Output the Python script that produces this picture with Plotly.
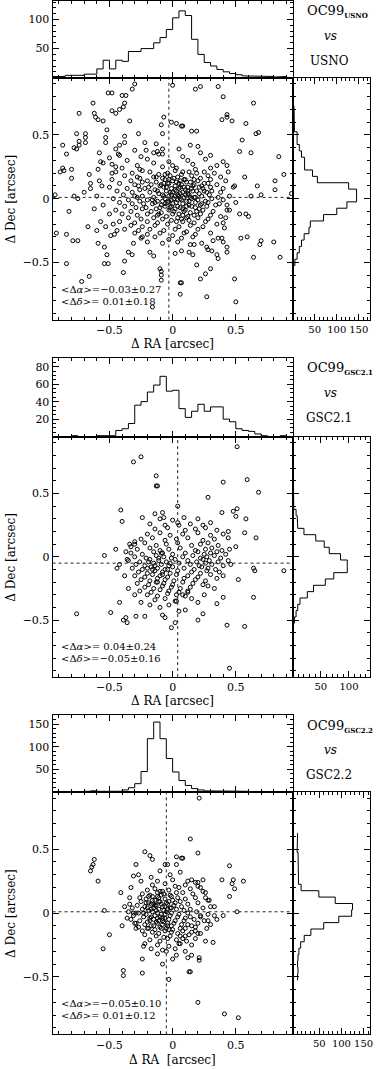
import plotly.graph_objects as go

W, H = 384, 1069
FONT = "DejaVu Serif"

# --- catalogues compared with OC99 ---
catalogs = ["USNO", "GSC2.1", "GSC2.2"]
mean_ra = [-0.03, 0.04, -0.05]
sd_ra = [0.27, 0.24, 0.10]
mean_dec = [0.01, -0.05, 0.01]
sd_dec = [0.18, 0.16, 0.12]

# RA histograms: 0.05" bins from -0.95" to 0.95"
ra_bin_start, ra_bin_width = -0.95, 0.05
ra_counts_usno = [2, 2, 4, 4, 4, 6, 6, 15, 30, 15, 30, 28, 45, 45, 50, 50, 60, 69, 83,
                  103, 115, 107, 66, 40, 26, 20, 14, 10, 7, 5, 3, 3, 3, 3, 2, 1, 2, 0]
ra_counts_gsc21 = [0, 0, 0, 1, 0, 0, 0, 1, 1, 1, 7, 9, 15, 36, 40, 51, 59, 69, 52,
                   53, 32, 22, 29, 37, 29, 34, 34, 20, 17, 9, 7, 6, 3, 1, 0, 0, 1, 0]
ra_counts_gsc22 = [0, 0, 0, 0, 0, 1, 2, 1, 1, 1, 1, 4, 9, 18, 45, 118, 155, 118, 74,
                   44, 25, 14, 7, 4, 2, 2, 1, 2, 2, 2, 1, 0, 0, 0, 0, 0, 0, 0]

# Dec histograms: 0.05" bins centred on -0.95" ... 0.95"
dec_bin_start, dec_bin_width = -0.975, 0.05
dec_counts_usno = [0, 0, 0, 0, 1, 1, 1, 1, 2, 5, 10, 15, 20, 26, 37, 40, 70, 100, 123, 145,
                   145, 127, 56, 45, 27, 27, 20, 15, 10, 10, 4, 4, 4, 3, 2, 2, 1, 1, 0]
dec_counts_gsc21 = [0, 0, 0, 0, 0, 0, 0, 0, 1, 3, 6, 9, 13, 26, 37, 58, 73, 97, 97, 85,
                    65, 56, 41, 20, 9, 8, 6, 2, 1, 1, 1, 1, 0, 0, 1, 0, 1, 0, 0]
dec_counts_gsc22 = [0, 0, 0, 0, 0, 0, 0, 0, 0, 1, 2, 1, 2, 4, 8, 16, 31, 60, 94, 123,
                    125, 86, 49, 9, 3, 3, 2, 2, 2, 0, 1, 1, 0, 0, 0, 0, 0, 0, 0]

# individual offsets (dRA, dDec) in units of 0.01 arcsec
pts_usno = [
    (-30, 90), (-32, 86), (-51, 83), (-48, 83), (-40, 81), (-37, 81), (-63, 75), (-38, 75), (-39, 72),
    (-74, 67), (-62, 67), (-61, 64), (-59, 62), (-55, 61), (-48, 69), (-45, 67), (-42, 70), (-34, 61),
    (-7, 64), (0, 89), (-9, 58), (-8, 51), (-1, 60), (3, 59), (7, 57), (-76, 51), (-69, 51), (-69, 48),
    (-74, 45), (-69, 44), (-78, 40), (-76, 39), (-74, 42), (-87, 42), (-84, 35), (-87, 24), (-89, 21),
    (-86, 22), (-80, 23), (-80, 16), (-66, 19), (-53, 48), (-53, 44), (-52, 54), (-58, 36), (-57, 29),
    (-59, 23), (-45, 39), (-43, 35), (-42, 42), (-38, 49), (-38, 44), (-27, 51), (-22, 44), (-21, 38),
    (-13, 43), (-15, 36), (-11, 35), (-8, 39), (-65, 12), (-65, 8), (-93, 3), (-78, 2), (-75, 0),
    (-82, -10), (-92, -27), (-84, -28), (-79, -33), (-75, -33), (-84, -51), (-67, -22), (-59, -35),
    (-54, -38), (-52, -44), (-54, -51), (-51, -51), (-72, -65), (-66, -61), (-49, -29), (-46, -28),
    (-38, -49), (-39, -58), (-35, -42), (-32, -44), (-31, -35), (-24, -30), (-18, -42), (-15, -45),
    (-16, -85), (-10, -55), (-9, -57), (-9, -60), (-9, -64), (7, -66), (6, -75), (2, -43), (7, -41),
    (13, -42), (16, -44), (18, 86), (22, 88), (36, 88), (40, 80), (64, 75), (39, 62), (43, 66),
    (47, 61), (43, 64), (58, 59), (66, 51), (68, 52), (55, 46), (15, 53), (19, 53), (8, 57), (14, 42),
    (20, 41), (53, 37), (62, 36), (84, 33), (43, 26), (57, 17), (88, 19), (81, 14), (67, 10), (81, 7),
    (94, 4), (70, 3), (62, 2), (49, 10), (43, -5), (45, -9), (53, -12), (58, -12), (60, -14), (42, -15),
    (40, -19), (41, -23), (54, -31), (59, -30), (70, -33), (69, -36), (80, -34), (64, -46), (85, -46),
    (36, -47), (43, -42), (43, -38), (30, -55), (19, -52), (22, -63), (26, -59), (49, -63), (27, -77),
    (50, -81), (6, -66), (32, -33), (36, -31), (39, -31), (40, -34), (17, -36), (23, -35), (27, -38),
    (28, -40), (31, -41), (35, -44), (-56, 10), (-55, -5), (-50, -12), (-57, -18), (-48, 20), (-60, 2),
    (-62, -8), (-70, 5), (-55, 28), (-50, 32), (-47, -20), (-44, -25), (-60, -25), (-53, -22),
    (-45, 25), (-58, 14),
    # dense core
    (-18, 21), (-11, 19), (-4, 20), (2, 22), (7, 19), (13, 21), (19, 20),
    (-15, 17), (-8, 16), (-2, 18), (4, 17), (10, 15), (15, 18), (22, 16),
    (-20, 14), (-13, 13), (-6, 15), (0, 14), (5, 12), (9, 15), (14, 13), (20, 14), (25, 12),
    (-17, 11), (-10, 10), (-3, 12), (2, 10), (7, 11), (12, 9), (17, 11), (23, 10),
    (-22, 8), (-14, 7), (-7, 9), (-1, 8), (3, 6), (6, 9), (10, 7), (15, 8), (19, 6), (24, 8),
    (-18, 5), (-11, 4), (-5, 6), (0, 5), (4, 3), (8, 5), (12, 4), (16, 6), (21, 4), (27, 5),
    (-24, 2), (-15, 1), (-8, 3), (-3, 2), (1, 0), (5, 2), (9, 1), (13, 3), (18, 1), (23, 2),
    (-20, -1), (-12, -2), (-6, 0), (-1, -1), (3, -3), (7, -1), (11, -2), (15, 0), (20, -1), (26, -2),
    (-16, -4), (-9, -5), (-4, -3), (0, -4), (4, -6), (8, -4), (13, -5), (18, -3), (23, -4),
    (-21, -7), (-13, -8), (-6, -6), (-2, -7), (2, -8), (6, -7), (10, -9), (15, -6), (21, -8),
    (-17, -10), (-9, -11), (-3, -9), (1, -10), (5, -12), (9, -10), (14, -11), (19, -10),
    (-12, -13), (-5, -14), (0, -12), (4, -15), (8, -13), (12, -14), (17, -13),
    (-8, -16), (-1, -17), (3, -18), (7, -16), (13, -17),
    (-9, 11), (-5, 9), (-2, 5), (2, 7), (6, 4), (9, 9), (12, 6), (-7, 2), (-3, -2), (2, 2), (6, 0),
    (10, 3), (13, -2), (-6, -4), (-1, -6), (4, -1), (8, -8), (11, -6), (-4, 12), (1, 16), (6, 14),
    (11, 13), (16, 10), (17, 1), (-12, 6), (-14, -3), (-10, -7),
    (-13, 17), (-6, 19), (8, 21), (17, 15), (21, 9), (18, -7), (-19, 9), (-16, -1), (-8, -2), (3, 13),
    (-1, 3), (14, 1), (22, -5), (-11, -12), (11, -15), (-3, 15), (5, 8), (-7, 12), (25, 6), (-23, -4),
    # surrounding spread
    (-30, 38), (-12, 37), (5, 39), (22, 36), (-42, 34), (-25, 33), (-8, 35), (8, 33), (30, 34),
    (-36, 30), (-20, 31), (-3, 29), (12, 30), (26, 31), (40, 29), (-48, 27), (-28, 26), (-15, 28),
    (0, 26), (16, 27), (35, 26), (-40, 24), (-26, 23), (-8, 25), (3, 24), (18, 23), (30, 24),
    (-45, 21), (-32, 20), (-24, 22), (25, 21), (33, 20), (44, 21), (-38, 18), (-28, 17), (28, 18),
    (38, 17), (-48, 15), (-33, 14), (-26, 16), (30, 15), (42, 14), (-42, 12), (-30, 11), (-24, 13),
    (28, 12), (35, 11), (-50, 9), (-36, 8), (-27, 10), (30, 9), (40, 8), (48, 9), (-44, 6), (-32, 5),
    (-26, 7), (31, 6), (38, 5), (-39, 3), (-30, 2), (29, 3), (36, 1), (45, 2), (-47, 0), (-35, -1),
    (-28, 1), (31, 0), (40, -1), (-42, -3), (-32, -4), (-26, -2), (28, -3), (37, -4), (50, -3),
    (-38, -6), (-29, -7), (27, -6), (34, -5), (-45, -9), (-33, -10), (-24, -8), (24, -9), (32, -10),
    (43, -9), (-40, -12), (-28, -13), (-20, -12), (22, -12), (30, -13), (-35, -15), (-25, -16),
    (-15, -15), (20, -15), (28, -16), (38, -14), (-42, -18), (-30, -19), (-20, -18), (-12, -19),
    (8, -18), (17, -19), (26, -18), (-33, -21), (-24, -22), (-14, -21), (-4, -20), (5, -22), (14, -21),
    (24, -22), (35, -20), (-38, -24), (-27, -25), (-18, -24), (-7, -25), (2, -24), (11, -26), (20, -24),
    (-30, -27), (-20, -28), (-10, -27), (0, -29), (9, -27), (18, -28), (30, -27), (-25, -31), (-14, -30),
    (-3, -32), (7, -31), (16, -30), (-20, -34), (-8, -35), (4, -34), (14, -36),
]

pts_gsc21 = [
    (-31, 75), (-25, 79), (-13, 64), (-13, 56), (-12, 56), (-41, 37), (-14, 34), (-8, 35), (-7, 31),
    (4, 40), (5, 25), (-40, 28), (-24, 31), (-54, 1), (-45, 6), (-42, -6), (-44, -9), (-42, -36),
    (-37, -48), (-39, -50), (-49, -44), (-36, -52), (-76, -45), (-29, -47), (-22, -47), (-8, -46),
    (-6, -48), (-1, -56), (2, -52), (5, -43), (-37, 4), (-33, 8), (-30, 12), (51, 87), (40, 59),
    (59, 61), (68, 51), (28, 47), (39, 35), (48, 36), (51, 38), (50, 32), (58, 30), (66, 15), (57, 19),
    (64, -9), (65, -11), (88, -11), (52, -18), (64, -32), (57, -55), (43, -54), (35, -37), (40, -32),
    (20, -50), (24, -45), (45, -88), (10, -42), (15, -33), (20, -36), (25, -30), (-18, -38), (-10, -40),
    (-25, -36), (-30, -30), (-35, -25), (-38, -15), (-36, -2), (-34, 10), (46, -6), (50, 8), (44, 20),
    (-3, -38), (3, -35), (8, -30), (33, -25), (12, -28),
    (-20, 18), (-10, 19), (-2, 17), (8, 18), (20, 19), (30, 17), (40, 18),
    (-25, 14), (-16, 15), (-6, 13), (3, 14), (12, 15), (24, 13), (33, 14), (44, 15),
    (-30, 10), (-22, 11), (-13, 9), (-5, 10), (4, 11), (15, 9), (22, 10), (28, 11), (36, 9),
    (-28, 6), (-18, 7), (-10, 5), (-3, 6), (6, 7), (18, 5), (26, 6), (31, 7), (39, 5), (45, 6),
    (-33, 3), (-24, 2), (-15, 4), (-8, 3), (0, 2), (10, 3), (20, 4), (25, 2), (30, 3), (35, 4), (42, 2),
    (-30, 0), (-21, -1), (-13, 1), (-7, 0), (-1, -1), (8, 0), (16, 1), (22, -1), (27, 0), (33, 1), (38, -1),
    (-35, -3), (-26, -4), (-18, -2), (-11, -3), (-5, -4), (2, -2), (12, -3), (19, -4), (24, -2), (29, -3),
    (36, -4), (44, -3), (-29, -6), (-22, -7), (-15, -5), (-9, -6), (-3, -7), (5, -5), (14, -6), (21, -7),
    (26, -5), (31, -6), (40, -7), (-32, -9), (-24, -10), (-17, -8), (-12, -9), (-6, -10), (0, -8),
    (9, -9), (17, -10), (23, -8), (28, -9), (34, -10), (-27, -12), (-20, -13), (-14, -11), (-8, -12),
    (-2, -13), (4, -11), (15, -12), (22, -13), (27, -11), (37, -12), (-30, -15), (-22, -16), (-16, -14),
    (-10, -15), (-4, -16), (3, -14), (12, -15), (20, -16), (30, -14), (40, -15), (-25, -18), (-18, -19),
    (-12, -17), (-6, -18), (1, -19), (9, -17), (18, -18), (26, -19), (35, -17), (-28, -21), (-19, -22),
    (-13, -20), (-7, -21), (0, -22), (8, -20), (16, -21), (24, -22), (-22, -24), (-15, -25), (-8, -23),
    (-1, -24), (6, -25), (14, -24), (28, -23), (-26, -27), (-17, -28), (-10, -26), (-3, -27), (5, -28),
    (12, -27), (-20, -30), (-12, -31), (-4, -29), (3, -30), (10, -31), (-14, -34), (-6, -33), (2, -35),
    (-14, 22), (-4, 23), (10, 21), (18, 22), (26, 23), (35, 21), (-18, 26), (-6, 25), (4, 27), (14, 26),
    (24, 25), (30, 27), (-10, 30), (0, 29), (9, 31), (20, 30),
    (-14, -7), (-11, -1), (-8, -14), (-16, -10), (-19, -4), (-9, 3), (-4, -10), (-12, -20), (-20, -9),
    (-2, -5),
]

pts_gsc22 = [
    (14, 58), (20, 47), (-22, 48), (-18, 45), (-16, 42), (-6, 38), (-4, 38), (3, 44), (8, 43), (3, 38),
    (-62, 42), (-64, 36), (-65, 33), (-63, 38), (-59, 25), (-41, 16), (-29, 38), (-31, 29), (-27, 30),
    (-54, 2), (-50, -17), (-55, -28), (-39, -45), (-39, -49), (-24, -47), (-24, -36), (-22, -24),
    (-23, -26), (3, -33), (12, -35), (15, -33), (14, -46), (20, -70), (-31, 0), (-29, 0), (-30, -8),
    (-29, -12), (7, 43), (45, 37), (39, 26), (48, 26), (56, 25), (47, 23), (49, 19), (45, 13), (51, 1),
    (35, -5), (32, -23), (26, -22), (21, -35), (21, -37), (13, -46), (41, -79), (52, -82), (21, 90),
    (15, 26), (18, 24), (24, 26), (20, 21), (26, 16), (26, 12), (15, -10), (18, -14), (10, -18),
    (20, -16), (0, -36), (-5, -30), (-12, -32), (-17, -28), (-8, -40), (-3, -52), (5, -24), (8, -20),
    (30, 5), (33, -2), (28, -6), (22, -3), (29, 10), (-38, 5), (-36, -4), (-40, -10), (-34, 12),
    (-33, 20), (-25, 25), (-17, 28), (-10, 33), (-2, 30), (6, 32),
    (-20, 18), (-14, 19), (-8, 17), (-3, 18), (-24, 15), (-18, 14), (-12, 16), (-7, 15), (-2, 14), (3, 16),
    (-26, 12), (-21, 11), (-16, 13), (-11, 12), (-6, 11), (-1, 13), (4, 12),
    (-25, 9), (-19, 8), (-14, 10), (-10, 9), (-5, 8), (0, 10), (6, 9),
    (-28, 6), (-22, 5), (-17, 7), (-13, 6), (-8, 5), (-4, 7), (1, 6), (7, 5),
    (-24, 3), (-19, 2), (-15, 4), (-11, 3), (-7, 2), (-2, 4), (3, 3), (9, 2),
    (-27, 0), (-21, -1), (-16, 1), (-12, 0), (-9, -1), (-5, 1), (-1, 0), (5, -1),
    (-23, -3), (-18, -4), (-14, -2), (-10, -3), (-6, -4), (-2, -2), (4, -3), (10, -4),
    (-26, -6), (-20, -7), (-15, -5), (-11, -6), (-7, -7), (-3, -5), (2, -6),
    (-22, -9), (-17, -10), (-12, -8), (-8, -9), (-4, -10), (1, -8), (7, -9),
    (-19, -12), (-14, -13), (-10, -11), (-5, -12), (0, -13), (6, -12),
    (-16, -15), (-11, -16), (-6, -14), (-1, -15), (4, -16), (-13, -18), (-7, -19), (-2, -18),
    (-17, 3), (-13, -7), (-9, 7), (-6, -1), (-11, 9), (-15, -10), (-20, 4), (-3, 9), (-8, -4), (-12, 13),
    (-18, -6), (-4, -8), (-1, 4), (-14, 6), (-9, -12), (-21, 8),
    (-19, 13), (-9, 14), (-16, 10), (-4, 3), (-13, 2), (-23, 0), (-8, -6), (-17, -3), (-1, -10),
    (-12, -4), (-6, 5), (-20, -12), (2, 8), (-10, 17), (-15, 7), (-3, -13),
    (-16, 22), (-6, 23), (2, 21), (10, 22), (-12, 25), (0, 26), (12, 25), (20, 24), (5, 20), (14, 19),
    (22, 20), (8, 16), (16, 15), (24, 17), (10, 11), (18, 12), (28, 10), (-34, 7), (12, 7), (20, 8),
    (-32, 4), (14, 3), (24, 4), (33, 5), (-35, 1), (12, 0), (19, 1), (28, -1), (-31, -2), (14, -3),
    (22, -2), (40, -2), (-33, -5), (9, -6), (17, -5), (25, -6), (-29, -8), (12, -9), (20, -8), (30, -9),
    (-27, -11), (10, -12), (18, -11), (27, -12), (-24, -14), (8, -14), (15, -15), (-22, -17), (6, -18),
    (13, -17), (22, -16), (-18, -21), (-10, -22), (-4, -20), (3, -21), (11, -22), (18, -20), (-12, -25),
    (-3, -26), (6, -24), (15, -25), (-8, -29), (2, -28), (10, -30),
]

points = [pts_usno, pts_gsc21, pts_gsc22]
ra_counts = [ra_counts_usno, ra_counts_gsc21, ra_counts_gsc22]
dec_counts = [dec_counts_usno, dec_counts_gsc21, dec_counts_gsc22]

# histogram axis ranges and tick values
top_range = [[0, 132], [0, 90], [0, 170]]
top_ticks = [[50, 100], [20, 40, 60, 80], [50, 100, 150]]
top_minor = [10, 5, 10]
side_range = [[0, 175], [0, 137], [-10, 164]]
side_ticks = [[50, 100, 150], [50, 100], [50, 100, 150]]

# pixel layout of the three panels: top of histogram, histogram/scatter boundary, bottom
panel_rows = [(0, 76.7, 319), (357.3, 436, 676.7), (715, 791.5, 1034.3)]
X_LEFT, X_SPLIT, X_RIGHT = 53, 295, 372.7
LIM = 0.95


def fx(px):
    return px / W


def fy(py):
    return 1 - py / H


def signed(v):
    s = f"{abs(v):.2f}"
    return ("−" if v < 0 else " ") + s


def step_outline(counts, start, width):
    """Outline of a histogram between its first and last filled bins."""
    filled = [k for k, c in enumerate(counts) if c > 0]
    a, b = filled[0], filled[-1]
    pos, val = [start + width * a], [0]
    for k in range(a, b + 1):
        pos += [start + width * k, start + width * (k + 1)]
        val += [counts[k], counts[k]]
    pos.append(start + width * (b + 1))
    val.append(0)
    return pos, val


def axis_style(size=11, **kw):
    style = dict(
        showline=True, linecolor="black", linewidth=1, mirror="allticks",
        ticks="inside", ticklen=6, tickwidth=1, tickcolor="black",
        showgrid=False, zeroline=False, tickangle=0,
        tickfont=dict(family=FONT, size=size, color="black"),
    )
    style.update(kw)
    return style


def minor(dtick):
    return dict(ticks="inside", ticklen=3, tickwidth=1, tickcolor="black", dtick=dtick, showgrid=False)


fig = go.Figure()
layout = {}
annotations = []
shapes = []

for i, name in enumerate(catalogs):
    top, mid, bot = panel_rows[i]
    n = 3 * i + 1
    ids = [str(k) if k > 1 else "" for k in (n, n + 1, n + 2)]
    sx, tx, rx = ("x" + s for s in ids)
    sy, ty, ry = ("y" + s for s in ids)

    # scatter panel
    xs = [p[0] / 100 for p in points[i]]
    ys = [p[1] / 100 for p in points[i]]
    fig.add_trace(go.Scatter(
        x=xs, y=ys, xaxis=sx, yaxis=sy, mode="markers",
        marker=dict(symbol="circle-open", size=4, color="black", line=dict(width=1)),
        hoverinfo="skip",
    ))
    layout["xaxis" + ids[0]] = axis_style(
        domain=[fx(X_LEFT), fx(X_SPLIT)], anchor=sy, range=[-LIM, LIM],
        tick0=0, dtick=0.5, minor=minor(0.1),
    )
    layout["yaxis" + ids[0]] = axis_style(
        domain=[fy(bot), fy(mid)], anchor=sx, range=[-LIM, LIM],
        tick0=0, dtick=0.5, minor=minor(0.1),
    )

    # RA histogram on top
    hx, hy = step_outline(ra_counts[i], ra_bin_start, ra_bin_width)
    fig.add_trace(go.Scatter(
        x=hx, y=hy, xaxis=tx, yaxis=ty, mode="lines",
        line=dict(color="black", width=1), hoverinfo="skip",
    ))
    layout["xaxis" + ids[1]] = axis_style(
        domain=[fx(X_LEFT), fx(X_SPLIT)], anchor=ty, range=[-LIM, LIM],
        tick0=0, dtick=0.5, minor=minor(0.1), showticklabels=False,
    )
    layout["yaxis" + ids[1]] = axis_style(
        domain=[fy(mid), min(1.0, fy(top))], anchor=tx, range=top_range[i],
        tickmode="array", tickvals=top_ticks[i], minor=minor(top_minor[i]),
    )

    # Dec histogram on the right
    hy, hx = step_outline(dec_counts[i], dec_bin_start, dec_bin_width)
    fig.add_trace(go.Scatter(
        x=hx, y=hy, xaxis=rx, yaxis=ry, mode="lines",
        line=dict(color="black", width=1), hoverinfo="skip",
    ))
    layout["xaxis" + ids[2]] = axis_style(
        size=10, domain=[fx(X_SPLIT), fx(X_RIGHT)], anchor=ry, range=side_range[i],
        tickmode="array", tickvals=side_ticks[i], minor=minor(10),
    )
    layout["yaxis" + ids[2]] = axis_style(
        domain=[fy(bot), fy(mid)], anchor=rx, range=[-LIM, LIM],
        tick0=0, dtick=0.5, minor=minor(0.1), showticklabels=False,
    )

    # dotted lines through the mean offsets
    dot = dict(color="#222", width=1, dash="dot")
    shapes.append(dict(type="line", xref=sx, yref=sy, x0=mean_ra[i], x1=mean_ra[i],
                       y0=-LIM, y1=LIM, line=dot))
    shapes.append(dict(type="line", xref=sx, yref=sy, x0=-LIM, x1=LIM,
                       y0=mean_dec[i], y1=mean_dec[i], line=dot))

    # labels
    txt = dict(family=FONT, size=12, color="black")
    small = dict(family=FONT, size=10, color="black")
    annotations.append(dict(
        x=fx(59), y=fy(bot - 30.5), xref="paper", yref="paper", xanchor="left", yanchor="middle",
        text=f"&lt;Δ<i>α</i>&gt;={signed(mean_ra[i])}±{sd_ra[i]:.2f}", showarrow=False, font=small,
    ))
    annotations.append(dict(
        x=fx(59), y=fy(bot - 18.5), xref="paper", yref="paper", xanchor="left", yanchor="middle",
        text=f"&lt;Δ<i>δ</i>&gt;={signed(mean_dec[i])}±{sd_dec[i]:.2f}", showarrow=False, font=small,
    ))
    annotations.append(dict(
        x=fx(11), y=fy((mid + bot) / 2), xref="paper", yref="paper", textangle=-90,
        xanchor="center", yanchor="middle",
        text="Δ Dec [arcsec]", showarrow=False, font=txt,
    ))
    ra_title = "Δ RA  [arcsec]" if i == 2 else "Δ RA [arcsec]"
    annotations.append(dict(
        x=fx((X_LEFT + X_SPLIT) / 2), y=fy(bot + (26 if i == 2 else 24)), xref="paper", yref="paper",
        xanchor="center", yanchor="middle",
        text=ra_title, showarrow=False, font=txt,
    ))
    annotations.append(dict(
        x=fx(307), y=fy(top + 11), xref="paper", yref="paper", xanchor="left", yanchor="middle",
        text=f"OC99<sub><span style='font-size:7px'><b>{name}</b></span></sub>", showarrow=False,
        font=dict(family=FONT, size=13, color="black"),
    ))
    annotations.append(dict(
        x=fx(333), y=fy(top + 35), xref="paper", yref="paper", xanchor="center", yanchor="middle",
        text="<i>vs</i>", showarrow=False, font=txt,
    ))
    annotations.append(dict(
        x=fx(332), y=fy(top + 60), xref="paper", yref="paper", xanchor="center", yanchor="middle",
        text=name, showarrow=False, font=txt,
    ))

fig.update_layout(
    width=W, height=H, margin=dict(l=0, r=0, t=0, b=0),
    plot_bgcolor="white", paper_bgcolor="white", showlegend=False,
    annotations=annotations, shapes=shapes, **layout,
)

fig.write_html(
    "out.html",
    config={"displayModeBar": False},
    post_script="document.body.style.margin='0';document.body.style.overflow='hidden';",
)
